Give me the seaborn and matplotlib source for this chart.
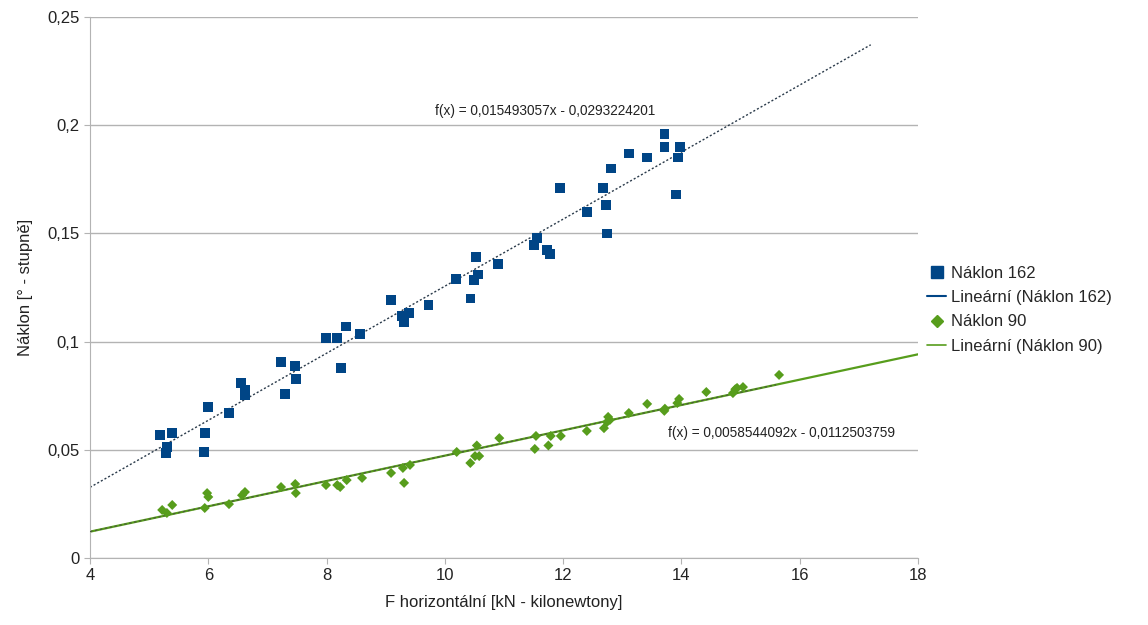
import numpy as np
import pandas as pd
import matplotlib
matplotlib.use("Agg")
import matplotlib.pyplot as plt
import seaborn as sns
from matplotlib.lines import Line2D
from matplotlib.ticker import FuncFormatter

sns.set_style("white")
plt.rcParams['font.family'] = ['Liberation Sans', 'DejaVu Sans']

# Náklon 162 - measured points
x_162 = [5.18, 5.29, 5.30, 5.39, 5.93, 5.94, 5.99, 6.35, 6.55, 6.62, 6.62,
         7.23, 7.30, 7.47, 7.48, 7.99, 8.18, 8.24, 8.33, 8.57, 9.09, 9.28,
         9.31, 9.39, 9.72, 10.19, 10.43, 10.49, 10.53, 10.56, 10.90, 11.51,
         11.56, 11.73, 11.78, 11.95, 12.40, 12.67, 12.72, 12.74, 12.81, 13.11,
         13.42, 13.71, 13.71, 13.91, 13.94, 13.98]
y_162 = [0.0569, 0.0485, 0.0513, 0.0578, 0.0490, 0.0578, 0.0698, 0.0670,
         0.0810, 0.0776, 0.0753, 0.0906, 0.0758, 0.0887, 0.0827, 0.1017,
         0.1017, 0.0878, 0.1070, 0.1035, 0.1192, 0.1118, 0.1090, 0.1132,
         0.1170, 0.1290, 0.1200, 0.1285, 0.1390, 0.1310, 0.1360, 0.1446,
         0.1480, 0.1423, 0.1405, 0.1710, 0.1600, 0.1710, 0.1630, 0.1500,
         0.1800, 0.1870, 0.1850, 0.1960, 0.1900, 0.1680, 0.1850, 0.1900]

# Náklon 90 - measured points
x_90 = [5.22, 5.30, 5.39, 5.94, 5.98, 6.00, 6.35, 6.57, 6.62, 7.23, 7.47,
        7.48, 7.99, 8.18, 8.23, 8.34, 8.60, 9.09, 9.29, 9.31, 9.41, 10.20,
        10.43, 10.51, 10.54, 10.58, 10.92, 11.52, 11.54, 11.75, 11.79, 11.96,
        12.40, 12.69, 12.74, 12.76, 12.79, 13.11, 13.42, 13.71, 13.72, 13.93,
        13.96, 14.42, 14.87, 14.91, 14.94, 15.04, 15.65]
y_90 = [0.0222, 0.0208, 0.0245, 0.0231, 0.0300, 0.0282, 0.0249, 0.0290,
        0.0305, 0.0328, 0.0342, 0.0300, 0.0337, 0.0337, 0.0328, 0.0360,
        0.0370, 0.0393, 0.0416, 0.0347, 0.0430, 0.0490, 0.0439, 0.0471,
        0.0520, 0.0471, 0.0554, 0.0504, 0.0564, 0.0520, 0.0564, 0.0564,
        0.0587, 0.0600, 0.0628, 0.0652, 0.0638, 0.0670, 0.0712, 0.0680,
        0.0690, 0.0716, 0.0735, 0.0767, 0.0762, 0.0780, 0.0786, 0.0790,
        0.0846]

# linear trend coefficients (slope, intercept) and drawn x range
fit_162 = (0.015493057, -0.0293224201)
fit_90 = (0.0058544092, -0.0112503759)
trend_x_162 = [4, 17.2]
trend_x_90 = [4, 18]

blue = '#004586'
green = '#579d1c'

df_162 = pd.DataFrame({'F': x_162, 'naklon': y_162})
df_90 = pd.DataFrame({'F': x_90, 'naklon': y_90})
tr_162 = pd.DataFrame({'F': trend_x_162})
tr_162['naklon'] = fit_162[0] * tr_162['F'] + fit_162[1]
tr_90 = pd.DataFrame({'F': trend_x_90})
tr_90['naklon'] = fit_90[0] * tr_90['F'] + fit_90[1]
# darker dashed overlay over the green trend, only along the data range
tr_90_dark = pd.DataFrame({'F': [4, 15.6]})
tr_90_dark['naklon'] = fit_90[0] * tr_90_dark['F'] + fit_90[1]

fig = plt.figure(figsize=(11.48, 6.25), dpi=100)
ax = fig.add_axes([0.0784, 0.1072, 0.7213, 0.8656])

# trend lines
sns.lineplot(data=tr_90, x='F', y='naklon', color=green, lw=1.6, ax=ax, zorder=2)
sns.lineplot(data=tr_90_dark, x='F', y='naklon', color='#4a5a3a', lw=0.9,
             ls=(0, (2, 2)), ax=ax, zorder=3)
sns.lineplot(data=tr_162, x='F', y='naklon', color='#2a3a4a', lw=1.0,
             ls=(0, (1.5, 1.5)), ax=ax, zorder=2)

# points
sns.scatterplot(data=df_162, x='F', y='naklon', marker='s', s=48, color=blue,
                edgecolor='none', ax=ax, zorder=4)
sns.scatterplot(data=df_90, x='F', y='naklon', marker='D', s=26, color=green,
                edgecolor='none', ax=ax, zorder=4)

ax.set_xlim(4, 18)
ax.set_ylim(0, 0.25)
ax.set_xticks(range(4, 19, 2))
ax.set_yticks([0, 0.05, 0.1, 0.15, 0.2, 0.25])
ax.yaxis.set_major_formatter(FuncFormatter(lambda v, p: ('%g' % round(v, 2)).replace('.', ',')))
ax.grid(axis='y', color='#b3b3b3', lw=1)
ax.grid(axis='x', visible=False)
for side in ['top', 'right']:
    ax.spines[side].set_visible(False)
for side in ['left', 'bottom']:
    ax.spines[side].set_color('#b3b3b3')
ax.tick_params(axis='both', labelsize=12, colors='#b3b3b3', labelcolor='#222222',
               length=4, direction='out', bottom=True, left=True)
ax.set_xlabel('F horizontální [kN - kilonewtony]', fontsize=12, color='#222222', labelpad=8)
ax.set_ylabel('Náklon [° - stupně]', fontsize=12, color='#222222', labelpad=10)

ax.text(11.69, 0.2065, 'f(x) = 0,015493057x - 0,0293224201', fontsize=9.8,
        ha='center', va='center', color='#222222')
ax.text(13.77, 0.0578, 'f(x) = 0,0058544092x - 0,0112503759', fontsize=9.8,
        ha='left', va='center', color='#222222')

handles = [
    Line2D([], [], marker='s', color=blue, ls='none', markersize=8),
    Line2D([], [], color=blue, lw=1.5),
    Line2D([], [], marker='D', color=green, ls='none', markersize=6),
    Line2D([], [], color=green, lw=1.2),
]
labels = ['Náklon 162', 'Lineární (Náklon 162)', 'Náklon 90', 'Lineární (Náklon 90)']
fig.legend(handles, labels, loc='upper left', bbox_to_anchor=(0.802, 0.585),
           frameon=False, fontsize=12, handlelength=1.1, handletextpad=0.3,
           labelspacing=0.55, borderaxespad=0)

fig.savefig('out.png', dpi=100)
